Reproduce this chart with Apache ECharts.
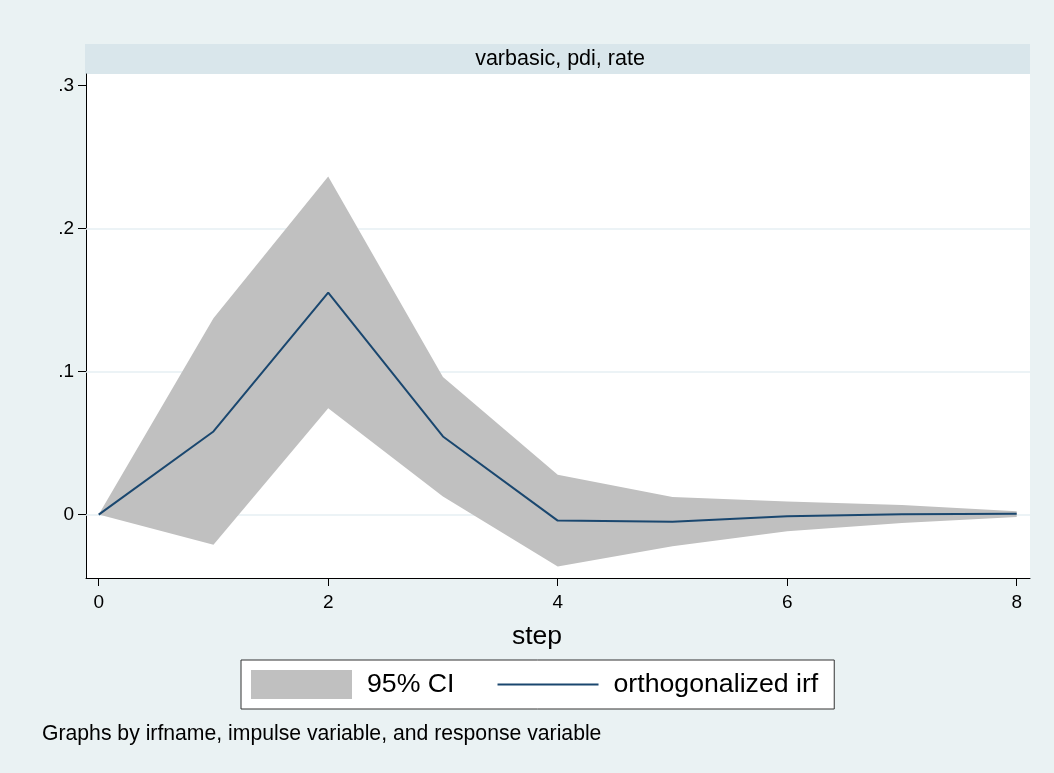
<!DOCTYPE html>
<html>
<head>
<meta charset="utf-8">
<script src="https://cdn.jsdelivr.net/npm/echarts@6/dist/echarts.min.js"></script>
<style>
  html, body { margin: 0; padding: 0; background: #eaf2f3; }
  #chart { width: 1054px; height: 773px; }
</style>
</head>
<body>
<div id="chart"></div>
<script>
// impulse response: varbasic, impulse pdi, response rate
const steps = [0, 1, 2, 3, 4, 5, 6, 7, 8];
const irf = [0, 0.0581, 0.1552, 0.0546, -0.0042, -0.0050, -0.0012, 0.0003, 0.0006];
const ciUpper = [0, 0.1373, 0.2362, 0.0961, 0.0279, 0.0123, 0.0092, 0.0068, 0.0023];
const ciLower = [0, -0.0210, 0.0744, 0.0126, -0.0362, -0.0222, -0.0116, -0.0059, -0.0017];
const xTicks = [0, 2, 4, 6, 8];
const yTicks = [0, 0.1, 0.2, 0.3];
const yGrid = [0, 0.1, 0.2];

const font = 'Liberation Sans, Arial, sans-serif';

const irfData = steps.map((s, i) => [s, irf[i]]);

const chart = echarts.init(document.getElementById('chart'), null, { renderer: 'canvas' });

// the CI band as one polygon: upper bound forward, lower bound back
function renderBand(params, api) {
    if (params.dataIndex !== 0) return null;
    const pts = [];
    steps.forEach((s, i) => pts.push(api.coord([s, ciUpper[i]])));
    for (let i = steps.length - 1; i >= 0; i--) pts.push(api.coord([steps[i], ciLower[i]]));
    return {
        type: 'polygon',
        shape: { points: pts },
        style: { fill: '#c0c0c0' }
    };
}

const option = {
    animation: false,
    backgroundColor: '#eaf2f3',
    textStyle: { fontFamily: font },
    grid: {
        left: 86, right: 24, top: 74, bottom: 195,
        show: true, backgroundColor: '#ffffff', borderWidth: 0
    },
    xAxis: {
        type: 'value',
        min: -0.1107,
        max: 8.116,
        axisLine: { show: true, onZero: false, lineStyle: { color: '#000', width: 1 } },
        axisTick: { show: true, length: 8, customValues: xTicks, lineStyle: { color: '#000' } },
        axisLabel: { customValues: xTicks, color: '#000', fontSize: 19, margin: 15, fontFamily: font },
        splitLine: { show: false }
    },
    yAxis: {
        type: 'value',
        min: -0.0443,
        max: 0.3079,
        axisLine: { show: true, onZero: false, lineStyle: { color: '#000', width: 1 } },
        axisTick: { show: true, length: 8, customValues: yTicks, lineStyle: { color: '#000' } },
        axisLabel: {
            customValues: yTicks, color: '#000', fontSize: 19, margin: 12, fontFamily: font,
            formatter: v => (Math.abs(v) < 1e-9 ? '0' : String(+v.toFixed(2)).replace(/^0/, ''))
        },
        splitLine: { show: false }
    },
    legend: {
        left: 241,
        top: 660,
        orient: 'horizontal',
        backgroundColor: '#ffffff',
        borderColor: '#333333',
        borderWidth: 1,
        padding: [10, 16, 10, 10],
        itemWidth: 101,
        itemHeight: 29,
        itemGap: 42,
        textStyle: { fontSize: 26.7, color: '#000', fontFamily: font, padding: [0, 0, 0, 10] },
        data: [
            { name: '95% CI', icon: 'rect' },
            { name: 'orthogonalized irf', itemStyle: { opacity: 0 } }
        ]
    },
    graphic: [
        {
            type: 'rect', left: 85, top: 44, z: 0,
            shape: { width: 945, height: 30 },
            style: { fill: '#d9e6eb' }
        },
        {
            type: 'text', x: 560, y: 59, z: 1,
            style: { text: 'varbasic, pdi, rate', fill: '#000', font: '21.5px ' + font, align: 'center', verticalAlign: 'middle' }
        },
        {
            type: 'text', x: 537, y: 637,
            style: { text: 'step', fill: '#000', font: '26.5px ' + font, align: 'center', verticalAlign: 'middle' }
        },
        {
            type: 'text', x: 42, y: 734,
            style: { text: 'Graphs by irfname, impulse variable, and response variable', fill: '#000', font: '21.2px ' + font, align: 'left', verticalAlign: 'middle' }
        }
    ],
    series: [
        {
            name: '95% CI',
            type: 'custom',
            data: [[0, 0]],
            renderItem: renderBand,
            itemStyle: { color: '#c0c0c0' },
            silent: true,
            z: 2,
            markLine: {
                silent: true,
                symbol: 'none',
                z: 1,
                label: { show: false },
                lineStyle: { color: '#e6eff3', width: 1.5, type: 'solid' },
                data: yGrid.map(v => ({ yAxis: v }))
            }
        },
        {
            name: 'orthogonalized irf',
            type: 'line',
            data: irfData,
            symbol: 'none',
            itemStyle: { color: '#1a476f' },
            lineStyle: { color: '#1a476f', width: 2 },
            z: 4
        }
    ]
};

chart.setOption(option);
</script>
</body>
</html>
